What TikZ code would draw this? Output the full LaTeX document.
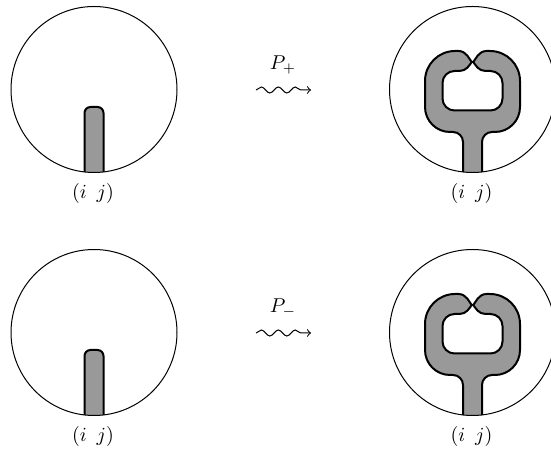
\documentclass[tikz,border=0pt]{standalone}
\usetikzlibrary{decorations.pathmorphing}
\tikzset{
  disc/.style={line width=0.5pt},
  band/.style={draw, fill=black!40, line width=1pt, line join=round},
  wavy/.style={->, line width=0.5pt, decorate,
    decoration={snake, amplitude=1.5pt, segment length=8.5pt, post length=3pt}},
  lab/.style={inner sep=0pt},
  stemshape/.pic={
    \begin{scope}
      \clip (0,0) circle[radius=41.5pt];
      \path[band] (-9.5,84) -- (-9.5,23.5)
        .. controls (-9.5,20.2) and (-6.8,17.5) .. (-3.5,17.5) -- (3.5,17.5)
        .. controls (6.8,17.5) and (9.5,20.2) .. (9.5,23.5) -- (9.5,84);
    \end{scope}
    \draw[disc] (0,0) circle[radius=41.5pt];
  },
  loopshape/.pic={
    \begin{scope}
      \clip (0,0) circle[radius=41.5pt];
      \path[band] (-9.5,84) -- (-9.5,52.5)
        .. controls (-9.5,47) and (-14,42.5) .. (-19.5,42.5) -- (-22.5,42.5)
        .. controls (-36.3,42.5) and (-47.5,31.3) .. (-47.5,17.5) -- (-47.5,-8.5)
        .. controls (-47.5,-25.06) and (-34.06,-38.5) .. (-17.5,-38.5) -- (-14,-38.5)
        .. controls (-6,-38.5) and (-3,-30) .. (-0.8,-27.5)
        .. controls (-3,-24.5) and (-6,-18.5) .. (-13,-18.5) -- (-18,-18.5)
        .. controls (-24.6,-18.5) and (-30,-13.1) .. (-30,-6.5) -- (-30,9)
        .. controls (-30,15.6) and (-24.6,21) .. (-18,21) -- (18,21)
        .. controls (24.6,21) and (30,15.6) .. (30,9) -- (30,-6.5)
        .. controls (30,-13.1) and (24.6,-18.5) .. (18,-18.5) -- (13,-18.5)
        .. controls (6,-18.5) and (3,-24.5) .. (0.8,-27.5)
        .. controls (3,-30) and (6,-38.5) .. (14,-38.5) -- (17.5,-38.5)
        .. controls (34.06,-38.5) and (47.5,-25.06) .. (47.5,-8.5) -- (47.5,17.5)
        .. controls (47.5,31.3) and (36.3,42.5) .. (22.5,42.5) -- (19.5,42.5)
        .. controls (14,42.5) and (9.5,47) .. (9.5,52.5) -- (9.5,84);
    \end{scope}
    \draw[disc] (0,0) circle[radius=41.5pt];
  }
}
\begin{document}
\begin{tikzpicture}[x=0.5pt,y=-0.5pt]
  \useasboundingbox (0,0) rectangle (551,453);
  % top row
  \pic at (94,89.5) {stemshape};
  \pic at (472.5,89.5) {loopshape};
  \node[lab] (l1) at (93,193.5) {$(i\enspace j)$};
  \node[lab] (r1) at (471.5,193.5) {$(i\enspace j)$};
  \node[lab] (p1) at (283,65) {$P_{+}$};
  \coordinate (a1) at (256,90);
  \coordinate (b1) at (311,90);
  \draw[wavy] (a1) -- (b1);
  % bottom row
  \pic at (94,332.5) {stemshape};
  \pic at (472.5,332.5) {loopshape};
  \node[lab] (l2) at (93,436.5) {$(i\enspace j)$};
  \node[lab] (r2) at (471.5,436.5) {$(i\enspace j)$};
  \node[lab] (p2) at (283,308) {$P_{-}$};
  \coordinate (a2) at (256,333);
  \coordinate (b2) at (311,333);
  \draw[wavy] (a2) -- (b2);
\end{tikzpicture}
\end{document}
